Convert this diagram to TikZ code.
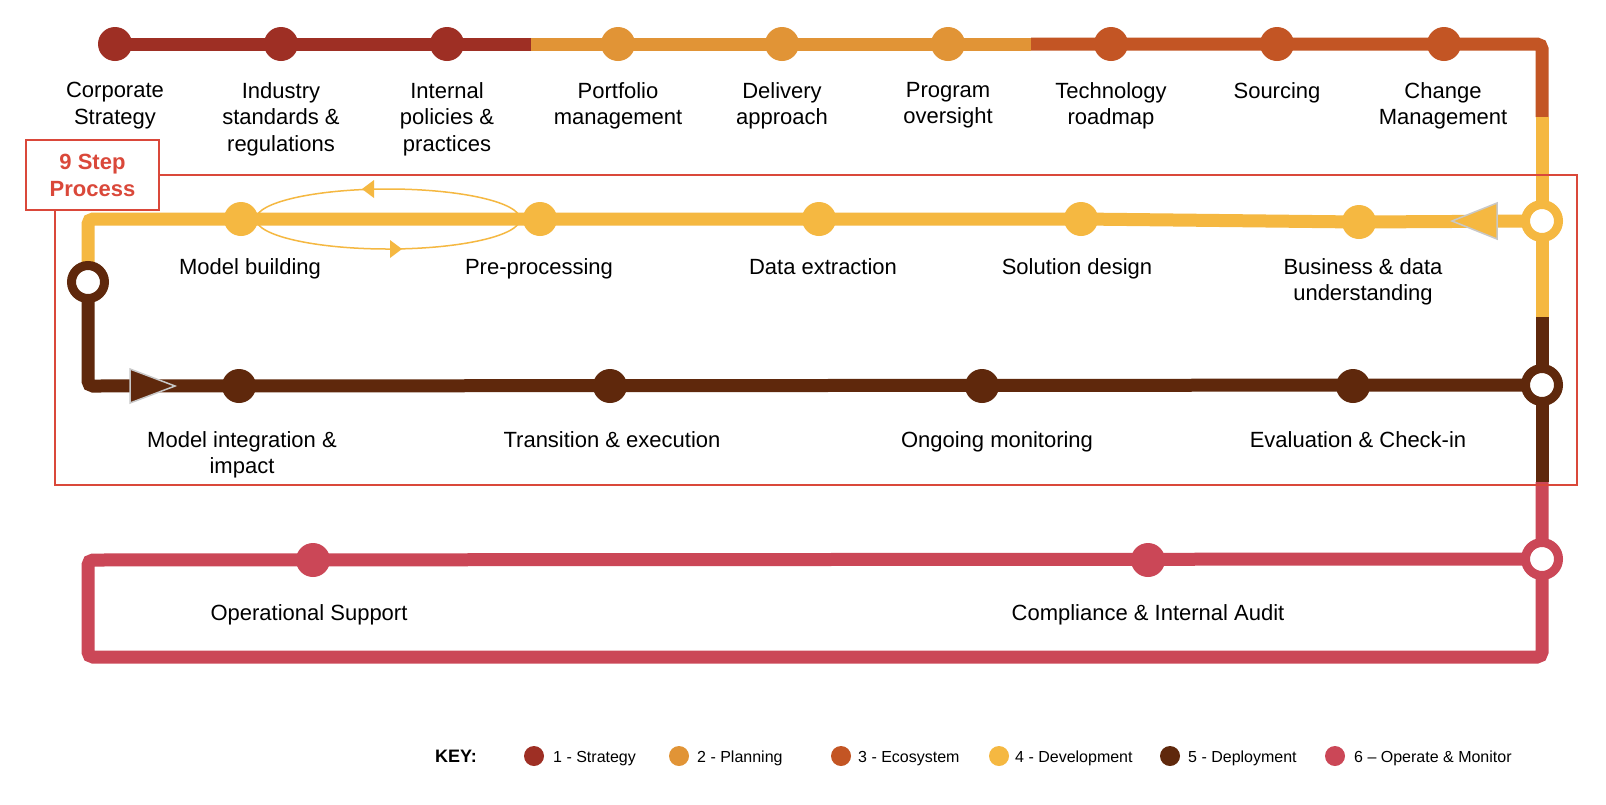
\documentclass[tikz,border=0pt]{standalone}
\usepackage{fontspec}
\setmainfont{Liberation Sans}
\usetikzlibrary{backgrounds}
\definecolor{cStrat}{RGB}{158,47,36}
\definecolor{cPlan}{RGB}{225,148,54}
\definecolor{cEco}{RGB}{195,85,36}
\definecolor{cDev}{RGB}{245,184,65}
\definecolor{cDep}{RGB}{95,40,12}
\definecolor{cOps}{RGB}{203,71,87}
\definecolor{cBox}{RGB}{218,72,58}
\definecolor{cTip}{RGB}{200,200,200}
\begin{document}
\begin{tikzpicture}[x=1pt,y=-1pt,
  track/.style={line width=13pt, rounded corners=5pt},
  stop/.style={circle, fill=#1, minimum size=34pt, inner sep=0pt},
  ring/.style={circle, draw=#1, line width=9pt, fill=white, minimum size=33pt, inner sep=0pt},
  lbl/.style={font=\fontsize{22}{26.6}\selectfont, align=center, anchor=north, inner sep=0pt},
  keytxt/.style={font=\fontsize{16}{19}\selectfont, anchor=base west, inner sep=0pt},
  keydot/.style={circle, fill=#1, minimum size=20pt, inner sep=0pt},
  bigtip/.style={draw=cTip, line width=1.5pt, fill=#1},
]
\useasboundingbox (0,0) rectangle (1606,804);

% top row stations
\node[stop=cStrat] (t1) at (115,44) {};
\node[stop=cStrat] (t2) at (281,44) {};
\node[stop=cStrat] (t3) at (447,44) {};
\node[stop=cPlan] (t4) at (618,44) {};
\node[stop=cPlan] (t5) at (782,44) {};
\node[stop=cPlan] (t6) at (948,44) {};
\node[stop=cEco] (t7) at (1111,44) {};
\node[stop=cEco] (t8) at (1277,44) {};
\node[stop=cEco] (t9) at (1444,44) {};
\coordinate (tA) at (531,44);
\coordinate (tB) at (1031,44);
\coordinate (tC) at (1542,44);
\coordinate (rA) at (1542,117);
\node[ring=cDev] (ry) at (1542,221) {};
\coordinate (rB) at (1542,317);
\node[ring=cDep] (rd) at (1542,385) {};
\coordinate (rC) at (1542,482);
\node[ring=cOps] (ro) at (1542,559) {};
\coordinate (rD) at (1542,657);
\coordinate (lD) at (88,657);
\coordinate (lC) at (88,560);

% development row
\node[stop=cDev] (y5) at (1359,222) {};
\node[stop=cDev] (y4) at (1081,219) {};
\node[stop=cDev] (y3) at (819,219) {};
\node[stop=cDev] (y2) at (540,219) {};
\node[stop=cDev] (y1) at (241,219) {};
\coordinate (yL) at (88,219);
\node[ring=cDep] (rl) at (88,282) {};
\coordinate (dL) at (88,386);

% deployment row
\node[stop=cDep] (d1) at (239,386) {};
\node[stop=cDep] (d2) at (610,386) {};
\node[stop=cDep] (d3) at (982,386) {};
\node[stop=cDep] (d4) at (1353,386) {};

% operate row
\node[stop=cOps] (o1) at (313,560) {};
\node[stop=cOps] (o2) at (1148,560) {};

\begin{scope}[on background layer]
\fill[white] (0,0) rectangle (1606,804);
\draw[track, cStrat] (t1.center) -- (tA);
\draw[track, cPlan] (tA) -- (tB);
\draw[track, cEco] (tB) -- (tC) -- (rA);
\draw[track, cDev] (rA) -- (rB);
\draw[track, cDev] (ry.center) -- (y5.center) -- (y4.center) -- (yL) -- (rl.center);
\draw[track, cDep] (rB) -- (rC);
\draw[track, cDep] (rl.center) -- (dL) -- (rd.center);
\draw[track, cOps] (rC) -- (rD) -- (lD) -- (lC) -- (ro.center);
\end{scope}

% loop between model building and pre-processing
\draw[cDev, line width=1.5pt] (388,219) ellipse [x radius=132pt, y radius=30pt];
\fill[cDev] (362,189) -- (374,180) -- (374,198) -- cycle;
\fill[cDev] (402,249) -- (390,240) -- (390,258) -- cycle;

% direction arrows
\draw[bigtip=cDev] (1452,221) -- (1497,203) -- (1497,239) -- cycle;
\draw[bigtip=cDep] (175,386) -- (130,369) -- (130,403) -- cycle;

% labels
\node[lbl] (L1) at (115,82) {Corporate\\Strategy};
\node[lbl] (L2) at (281,82) {Industry\\standards \&\\regulations};
\node[lbl] (L3) at (447,82) {Internal\\policies \&\\practices};
\node[lbl] (L4) at (618,82) {Portfolio\\management};
\node[lbl] (L5) at (782,82) {Delivery\\approach};
\node[lbl] (L6) at (948,82) {Program\\oversight};
\node[lbl] (L7) at (1111,82) {Technology\\roadmap};
\node[lbl] (L8) at (1277,82) {Sourcing};
\node[lbl] (L9) at (1443,82) {Change\\Management};

\node[lbl] (Y1) at (250,258) {Model building};
\node[lbl] (Y2) at (539,258) {Pre-processing};
\node[lbl] (Y3) at (823,258) {Data extraction};
\node[lbl] (Y4) at (1077,258) {Solution design};
\node[lbl] (Y5) at (1363,258) {Business \& data\\understanding};

\node[lbl] (D1) at (242,431) {Model integration \&\\impact};
\node[lbl] (D2) at (612,431) {Transition \& execution};
\node[lbl] (D3) at (997,431) {Ongoing monitoring};
\node[lbl] (D4) at (1358,431) {Evaluation \& Check-in};

\node[lbl] (O1) at (309,604) {Operational Support};
\node[lbl] (O2) at (1148,604) {Compliance \& Internal Audit};

% 9 step process frame
\draw[cBox, line width=1.5pt] (55,175) rectangle (1577,485);
\node[draw=cBox, line width=1.5pt, fill=white, minimum width=133pt, minimum height=70pt,
  inner sep=0pt, align=center, font=\bfseries\fontsize{22}{27}\selectfont, text=cBox]
  (box) at (92.5,175) {9 Step\\Process};

% key
\node[font=\bfseries\fontsize{18}{21}\selectfont, anchor=base west, inner sep=0pt] (key) at (435,762) {KEY:};
\node[keydot=cStrat] (k1) at (534,756) {};
\node[keytxt] (kt1) at (553,762) {1 - Strategy};
\node[keydot=cPlan] (k2) at (679,756) {};
\node[keytxt] (kt2) at (697,762) {2 - Planning};
\node[keydot=cEco] (k3) at (841,756) {};
\node[keytxt] (kt3) at (858,762) {3 - Ecosystem};
\node[keydot=cDev] (k4) at (999,756) {};
\node[keytxt] (kt4) at (1015,762) {4 - Development};
\node[keydot=cDep] (k5) at (1170,756) {};
\node[keytxt] (kt5) at (1188,762) {5 - Deployment};
\node[keydot=cOps] (k6) at (1335,756) {};
\node[keytxt] (kt6) at (1354,762) {6 – Operate \& Monitor};
\end{tikzpicture}
\end{document}
